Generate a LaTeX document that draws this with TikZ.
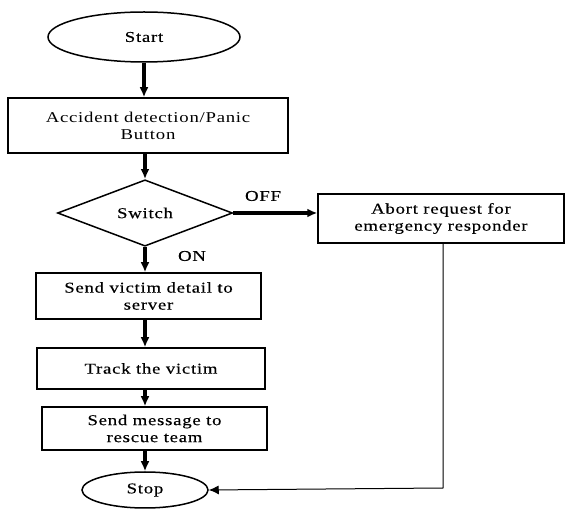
\documentclass[tikz,border=0pt]{standalone}
\usepackage{fontspec}
\setmainfont{Liberation Serif}[FakeStretch=1.25, LetterSpace=5]
\newfontfamily\heavyfont{Liberation Serif}[FakeStretch=1.25, LetterSpace=5, FakeBold=0.3]
\usepackage{tikz}
\usetikzlibrary{positioning}
\usetikzlibrary{shapes.geometric}
\usetikzlibrary{arrows.meta}
\tikzset{>={Latex[length=10pt,width=9pt]}}
\tikzset{
  txt/.style={font=\heavyfont\fontsize{15}{17}\selectfont},
  box/.style={txt, draw, line width=1.5pt, rectangle, align=center, inner sep=0pt},
  term/.style={txt, draw, line width=1.5pt, ellipse, inner sep=0pt},
  decide/.style={txt, draw, line width=1.5pt, diamond, inner sep=0pt},
  flow/.style={->, line width=3.2pt},
  back/.style={->, line width=1pt}
}

\begin{document}
\begin{tikzpicture}[x=1pt, y=-1pt]

% Page frame
\useasboundingbox (0,0) rectangle (568,510);

% ---------- Main column ----------
\node[term, minimum width=192, minimum height=50] (start) at (144,37) {Start};

\node[box, minimum width=280, minimum height=55,
      font=\normalfont\fontsize{15}{17}\selectfont] (detect) at (148,125.5)
  {Accident detection/Panic\\Button};

\node[decide, minimum width=175, minimum height=63] (switch) at (145,213) {Switch};

\node[box, minimum width=225, minimum height=46] (victim) at (148.5,296)
  {Send victim detail to\\server};

\node[box, minimum width=228, minimum height=41] (track) at (151,368.5)
  {Track the victim};

\node[box, minimum width=225, minimum height=43] (message) at (154.5,428.5)
  {Send message to\\rescue team};

\node[term, minimum width=126, minimum height=36] (stop) at (145,490) {Stop};

% ---------- Side branch ----------
\node[box, minimum width=246, minimum height=49] (abort) at (441,218.5)
  {Abort request for\\emergency responder};

% ---------- Labels ----------
\node[txt] (off) at (263,196) {OFF};
\node[txt] (on) at (192,256) {ON};

% ---------- Arrows ----------
\draw[flow] (start.south) -- (start.south |- detect.north);
\draw[flow] (detect.south -| switch) -- (switch.north);
\draw[flow] (switch.south) -- (switch.south |- victim.north);
\draw[flow] (victim.south -| stop) -- (stop |- track.north);
\draw[flow] (track.south -| stop) -- (stop |- message.north);
\draw[flow] (message.south -| stop) -- (stop.north);
\draw[flow] (switch.east) -- (switch.east -| abort.west);

% Abort goes straight to stop
\coordinate (bend) at (443,488);
\draw[back] (abort.south -| bend) -- (bend) -- (stop.east);

\end{tikzpicture}
\end{document}
